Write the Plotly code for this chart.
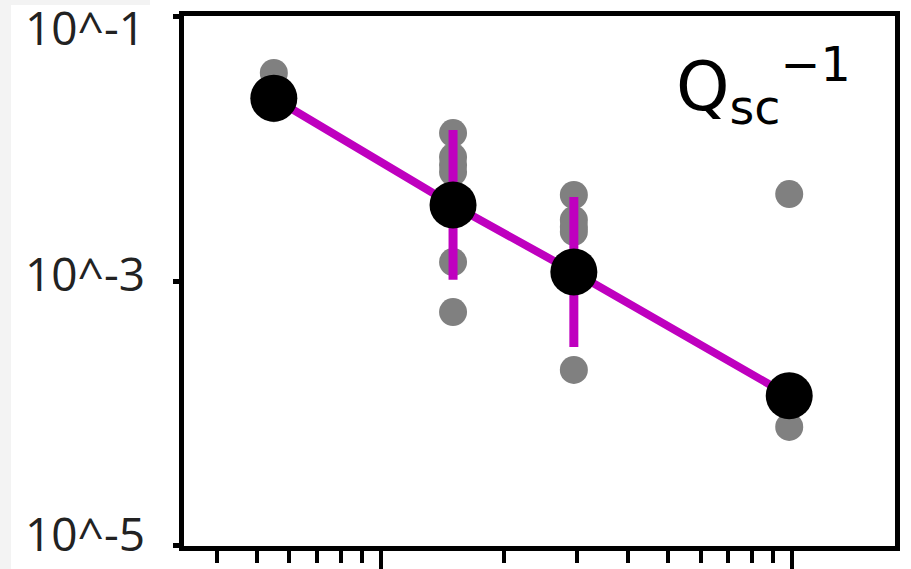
import math
import plotly.graph_objects as go

# Size categories (x) and the per-group summary values (y)
x_groups = [0.55, 1.5, 2.95, 9.85]
y_mean = [0.0240, 0.00375, 0.00117, 0.000136]
y_err_hi = [None, 0.0138, 0.0043, None]
y_err_lo = [None, 0.00102, 0.000318, None]

# Individual observations for each group
obs_x = [0.55, 0.55,
         1.5, 1.5, 1.5, 1.5, 1.5, 1.5,
         2.95, 2.95, 2.95, 2.95, 2.95,
         9.85, 9.85]
obs_y = [0.0372, 0.0202,
         0.0131, 0.00863, 0.0075, 0.00665, 0.00139, 0.000583,
         0.00446, 0.00289, 0.00256, 0.00235, 0.000213,
         0.00453, 0.0000791]

y_tickvals = [1e-5, 1e-3, 1e-1]
y_ticktext = ["10^-5", "10^-3", "10^-1"]
# small vertical nudges (px, up is positive) so the outer labels stay inside the canvas
y_label_nudge = [13, 8, -11]

W, H = 911, 569
ML, MR, MT, MB = 184, 16, 16, 23

err_plus = [(h - m) if h is not None else 0 for h, m in zip(y_err_hi, y_mean)]
err_minus = [(m - l) if l is not None else 0 for l, m in zip(y_err_lo, y_mean)]

MAGENTA = "#bf00bf"

fig = go.Figure()

fig.add_trace(go.Scatter(
    x=obs_x, y=obs_y, mode="markers",
    marker=dict(size=28, color="#808080", line=dict(width=0)),
    showlegend=False, hoverinfo="skip",
))

fig.add_trace(go.Scatter(
    x=x_groups, y=y_mean, mode="lines",
    line=dict(color=MAGENTA, width=8),
    error_y=dict(type="data", symmetric=False, array=err_plus,
                 arrayminus=err_minus, color=MAGENTA, thickness=9, width=0),
    showlegend=False, hoverinfo="skip",
))

fig.add_trace(go.Scatter(
    x=x_groups, y=y_mean, mode="markers",
    marker=dict(size=47, color="black", line=dict(width=0)),
    showlegend=False,
))

pw = W - ML - MR
ph = H - MT - MB
def px_x(p):
    return (p - ML) / pw
def px_y(p):
    return 1 - (p - MT) / ph

fig.add_annotation(
    text="Q<sub>sc</sub><sup>−1</sup>",
    xref="paper", yref="paper", x=px_x(853), y=px_y(86),
    xanchor="right", yanchor="middle", showarrow=False,
    font=dict(family="DejaVu Sans", size=68, color="black"),
)

# y tick labels
for v, t, dy in zip(y_tickvals, y_ticktext, y_label_nudge):
    fig.add_annotation(
        text=t, xref="paper", yref="y", x=0, y=math.log10(v),
        xanchor="right", yanchor="middle", xshift=-37, yshift=dy,
        showarrow=False,
        font=dict(family="Open Sans", size=46, color="#222222"),
    )

# light strip along the left/top edge of the canvas
fig.add_shape(type="rect", xref="paper", yref="paper",
              x0=px_x(0), x1=px_x(11), y0=px_y(H), y1=px_y(0),
              fillcolor="#f3f3f3", line=dict(width=0), layer="below")
fig.add_shape(type="rect", xref="paper", yref="paper",
              x0=px_x(0), x1=px_x(150), y0=px_y(5), y1=px_y(0),
              fillcolor="#f3f3f3", line=dict(width=0), layer="below")

fig.update_xaxes(
    type="log", range=[-0.478, 1.2506], automargin=False,
    showgrid=False, zeroline=False,
    showline=True, linecolor="black", linewidth=5, mirror=True,
    ticks="outside", ticklen=24, tickwidth=4, tickcolor="black",
    tick0=0, dtick=1, showticklabels=False,
    minor=dict(ticks="outside", ticklen=12, tickwidth=4,
               tickcolor="black", dtick="D1", showgrid=False),
)
fig.update_yaxes(
    type="log", range=[-5.001, -0.999], automargin=False,
    showgrid=False, zeroline=False,
    showline=True, linecolor="black", linewidth=5, mirror=True,
    ticks="outside", ticklen=6, tickwidth=5, tickcolor="black",
    tickmode="array", tickvals=y_tickvals, showticklabels=False,
)

fig.update_layout(
    width=W, height=H,
    margin=dict(l=ML, r=MR, t=MT, b=MB),
    paper_bgcolor="white", plot_bgcolor="white",
)

fig.write_html("out.html")
